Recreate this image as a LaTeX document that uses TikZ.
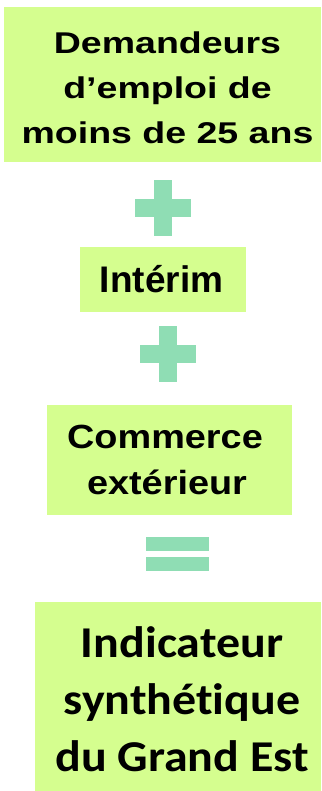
\documentclass[tikz,border=0pt]{standalone}
\usepackage{fontspec}
\usepackage{xcolor}
\usepackage{tikz}
\usetikzlibrary{positioning}
\newfontfamily\demfont[FakeStretch=1.25]{Liberation Sans}
\newfontfamily\intfont{Liberation Sans}
\newfontfamily\comfont[FakeStretch=1.13]{Liberation Sans}
\newfontfamily\indfont[FakeStretch=1.09, Ligatures=NoCommon]{Carlito}
\definecolor{panelgreen}{RGB}{213,254,143}
\definecolor{symgreen}{RGB}{143,221,180}
\tikzstyle{panel} = [rectangle, draw=none, fill=panelgreen, inner sep = 0]
\tikzstyle{txt} = [draw=none, align=center, inner sep = 0]
\tikzstyle{sym} = [fill=symgreen, draw=none]

\begin{document}
\begin{tikzpicture}[x=1pt, y=-1pt]
\useasboundingbox (0,0) rectangle (321,791);
% boxes
\node [panel, minimum width = 317, minimum height = 155] (Dem) at (162.5, 84.5) {};
\node [panel, minimum width = 166, minimum height = 65] (Int) at (163, 279.5) {};
\node [panel, minimum width = 245, minimum height = 110] (Com) at (169.5, 460) {};
\node [panel, minimum width = 286, minimum height = 189] (Ind) at (178, 696.5) {};
% texts
\node [txt, font=\demfont\bfseries\fontsize{30}{45}\selectfont] (DemT) at (167.5, 87.5) {Demandeurs\\d’emploi de\\moins de 25 ans};
\node [txt, font=\intfont\bfseries\fontsize{37}{45}\selectfont] (IntT) at (161.5, 279.5) {Intérim};
\node [txt, font=\comfont\bfseries\fontsize{33.5}{46.5}\selectfont] (ComT) at (167, 459.8) {Commerce\hspace*{4pt}\\extérieur};
\node [txt, font=\indfont\bfseries\fontsize{44}{57}\selectfont] (IndT) at (182, 699) {Indicateur\\synthétique\\du Grand Est};
% plus and equals signs
\foreach \px/\py in {163/208, 168/354} {
  \fill [sym] (\px-28, \py-9) rectangle (\px+28, \py+9);
  \fill [sym] (\px-9, \py-28) rectangle (\px+9, \py+28);
}
\fill [sym] (146, 537) rectangle (209, 551);
\fill [sym] (146, 557) rectangle (209, 571);
\end{tikzpicture}
\end{document}
